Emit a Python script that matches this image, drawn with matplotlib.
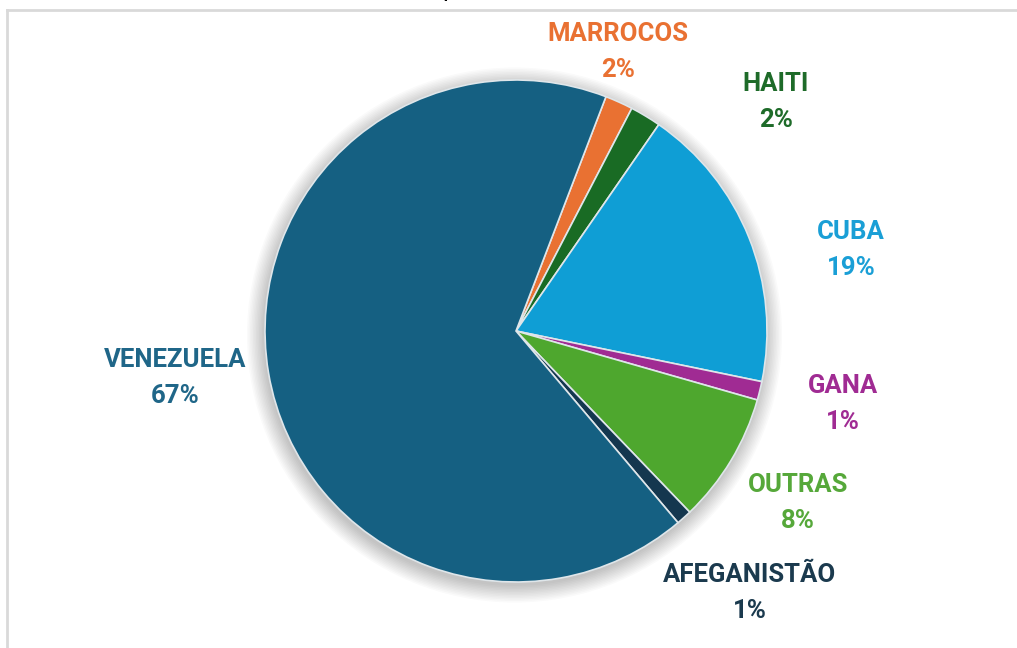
import matplotlib
matplotlib.use("Agg")
import matplotlib.pyplot as plt
from matplotlib.patches import Circle
from matplotlib.lines import Line2D

plt.rcParams['font.family'] = ['Roboto', 'DejaVu Sans']

# share of cases per country (percent), in clockwise order from the top
countries = ['MARROCOS', 'HAITI', 'CUBA', 'GANA', 'OUTRAS', 'AFEGANISTÃO', 'VENEZUELA']
shares = [1.8, 2.0, 18.6, 1.2, 8.4, 1.0, 67.0]

colors = ['#E97132', '#196B24', '#0F9ED5', '#A02B93', '#4EA72E', '#14374F', '#156082']
text_colors = ['#E97132', '#1E6B29', '#1A9FD6', '#A02B93', '#56A83A', '#1B3A4E', '#1F6688']
# label centres in pie-radius units
label_pos = [(0.406, 1.112), (1.036, 0.912), (1.335, 0.323), (1.303, -0.291),
             (1.124, -0.685), (0.932, -1.044), (-1.359, -0.187)]

fig = plt.figure(figsize=(10.17, 6.48), dpi=100)
ax = fig.add_axes([0, 0, 1, 1])

# soft shadow under the pie
for k in range(12):
    ax.add_patch(Circle((-0.006, -0.016), 1.0 + 0.006 * k, color='black',
                        alpha=0.02, lw=0, zorder=0))

wedges, _ = ax.pie(shares, colors=colors, startangle=69, counterclock=False,
                   radius=1.0, wedgeprops=dict(edgecolor='#dfe6ea', linewidth=1.2))
for w in wedges:
    w.set_zorder(2)

total = sum(shares)
for name, val, (x, y), c in zip(countries, shares, label_pos, text_colors):
    ax.text(x, y, f"{name}\n{round(val / total * 100):.0f}%", ha='center', va='center',
            fontsize=18.5, fontweight='bold', color=c, linespacing=1.6, zorder=3)

r = 251.0
ax.set_xlim(-516 / r, (1017 - 516) / r)
ax.set_ylim(-317 / r, (648 - 317) / r)
ax.set_aspect('equal')
ax.axis('off')

# chart frame (top and left edges visible in the crop)
fig.add_artist(Line2D([7 / 1017, 1], [1 - 10 / 648, 1 - 10 / 648], color='#d9d9d9', lw=2))
fig.add_artist(Line2D([7 / 1017, 7 / 1017], [0, 1 - 10 / 648], color='#d9d9d9', lw=2))
# cut-off title above the frame
fig.text(449 / 1017, 1 + 4 / 648, 'p', ha='center', va='baseline', fontsize=18, color='black')

fig.savefig('out.png', dpi=100)
plt.close(fig)
